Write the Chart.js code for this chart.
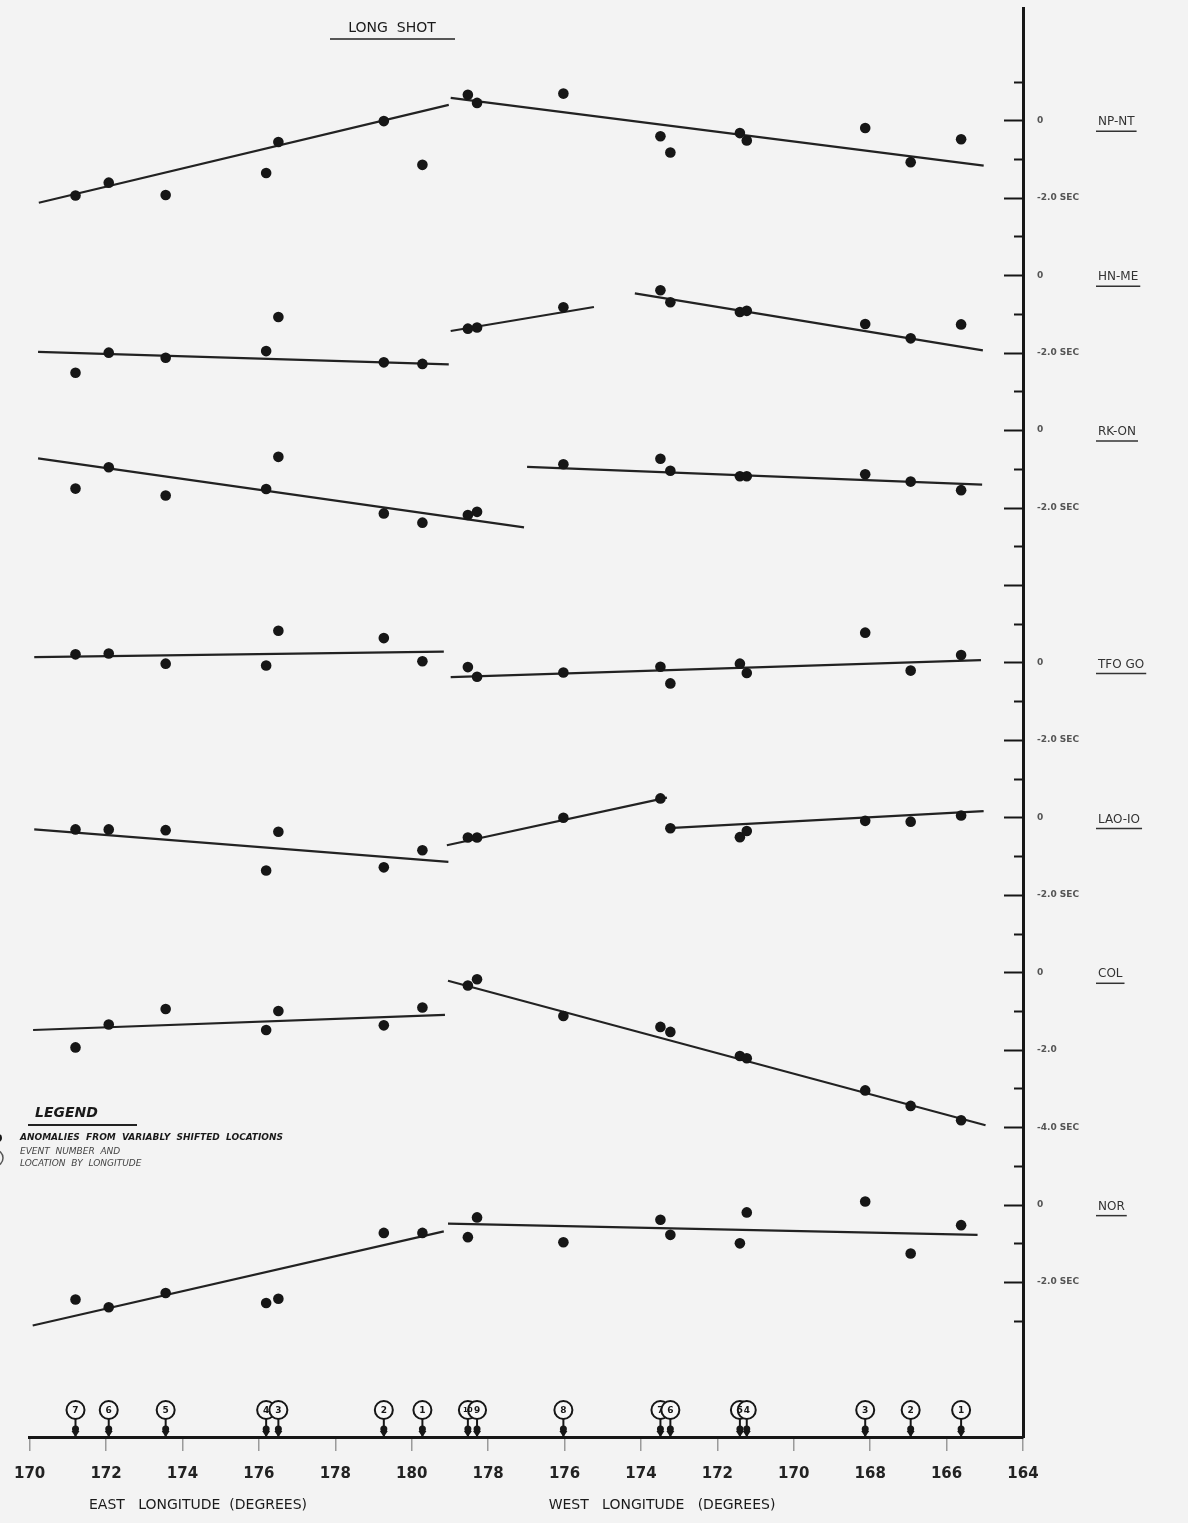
<!DOCTYPE html>
<html><head><meta charset="utf-8">
<script src="https://cdn.jsdelivr.net/npm/chart.js@4.4.0/dist/chart.umd.min.js"></script>
<style>html,body{margin:0;padding:0;background:#f3f3f3;} canvas{display:block}</style>
</head><body>
<canvas id="c" width="1188" height="1523"></canvas>
<script>
// Event longitudes in degrees east (0-360); >180 means west longitude 360-x
const eastEventLon = [171.20, 172.07, 173.56, 176.19, 176.51, 179.27, 180.28];          // events 7..1 (east group)
const westEventLon = [181.47, 181.71, 183.97, 186.51, 186.77, 188.59, 188.77, 191.87, 193.06, 194.38]; // events 10..1 (west group)
const eastEventNum = ['7','6','5','4','3','2','1'];
const westEventNum = ['10','9','8','7','6','5','4','3','2','1'];

const stationNames = ['NP-NT','HN-ME','RK-ON','TFO GO','LAO-IO','COL','NOR'];
const stationZero  = [0, -4, -8, -14, -18, -22, -28];   // zero line of each station on the common scale (sec)

// anomalies (sec): east events 7..1 then west events 10..1
const npnt = [-1.94,-1.61,-1.93,-1.36,-0.56,-0.02,-1.15, 0.66,0.45,0.69,-0.41,-0.83,-0.33,-0.52,-0.20,-1.08,-0.49];
const hnme = [-2.52,-2.00,-2.13,-1.96,-1.08,-2.25,-2.29, -1.38,-1.35,-0.83,-0.39,-0.70,-0.95,-0.92,-1.26,-1.63,-1.27];
const rkon = [-1.51,-0.96,-1.69,-1.52,-0.69,-2.15,-2.39, -2.19,-2.11,-0.88,-0.74,-1.05,-1.19,-1.19,-1.14,-1.33,-1.55];
const tfo  = [0.21,0.23,-0.03,-0.08,0.82,0.63,0.03, -0.12,-0.37,-0.26,-0.11,-0.54,-0.03,-0.27,0.77,-0.21,0.19];
const lao  = [-0.31,-0.31,-0.33,-1.37,-0.37,-1.29,-0.85, -0.52,-0.52,-0.01,0.49,-0.28,-0.51,-0.35,-0.09,-0.11,0.05];
const col  = [-1.94,-1.35,-0.95,-1.49,-1.00,-1.37,-0.91, -0.34,-0.18,-1.13,-1.41,-1.54,-2.16,-2.22,-3.05,-3.45,-3.82];
const nor  = [-2.45,-2.65,-2.28,-2.54,-2.43,-0.73,-0.73, -0.84,-0.33,-0.97,-0.39,-0.78,-1.00,-0.20,0.08,-1.26,-0.53];

// fitted line segments: [lon1, sec1, lon2, sec2]
const npntFit = [[170.24,-2.13,180.97,0.40],[181.02,0.58,194.97,-1.17]];
const hnmeFit = [[170.22,-1.98,180.97,-2.30],[181.02,-1.44,184.77,-0.82],[185.84,-0.47,194.95,-1.94]];
const rkonFit = [[170.22,-0.73,182.94,-2.51],[183.02,-0.95,194.93,-1.41]];
const tfoFit  = [[170.12,0.14,180.84,0.28],[181.02,-0.38,194.90,0.06]];
const laoFit  = [[170.12,-0.31,180.96,-1.15],[180.92,-0.72,186.68,0.51],[186.72,-0.28,194.97,0.16]];
const colFit  = [[170.09,-1.49,180.87,-1.10],[180.95,-0.22,195.02,-3.95]];
const norFit  = [[170.08,-3.12,180.84,-0.69],[180.95,-0.49,194.81,-0.78]];

const xTickStep = 2;
const xMin = 170, xMax = 196;
const yMin = -34, yMax = 2.9;

const allLon = eastEventLon.concat(westEventLon);
const allNum = eastEventNum.concat(westEventNum);
const stationVals = [npnt, hnme, rkon, tfo, lao, col, nor];
const stationFits = [npntFit, hnmeFit, rkonFit, tfoFit, laoFit, colFit, norFit];

const INK = '#161616';
const datasets = [];
stationVals.forEach((vals, i) => {
  const z = stationZero[i];
  datasets.push({
    label: stationNames[i],
    data: vals.map((v, j) => ({x: allLon[j], y: z + v})),
    showLine: false, pointRadius: 5.3, pointHoverRadius: 5.3,
    backgroundColor: INK, borderWidth: 0, order: 1
  });
  stationFits[i].forEach(seg => {
    datasets.push({
      label: stationNames[i] + ' fit',
      data: [{x: seg[0], y: z + seg[1]}, {x: seg[2], y: z + seg[3]}],
      showLine: true, pointRadius: 0, borderColor: '#222', borderWidth: 2.2, order: 2
    });
  });
});

const deco = {
  id: 'deco',
  beforeDraw(chart) {
    const c = chart.ctx;
    c.save(); c.fillStyle = '#f3f3f3'; c.fillRect(0, 0, chart.width, chart.height); c.restore();
  },
  afterDraw(chart) {
    const c = chart.ctx, xs = chart.scales.x, ys = chart.scales.y, a = chart.chartArea;
    c.save();
    // y tick marks (inward)
    c.strokeStyle = INK; c.lineWidth = 2;
    for (let v = 1; v >= -31; v--) {
      const py = Math.round(ys.getPixelForValue(v)) + 0.5;
      const len = (v % 2 === 0) ? 19 : 9;
      c.beginPath(); c.moveTo(a.right - len, py); c.lineTo(a.right, py); c.stroke();
    }
    // right-side labels
    c.textBaseline = 'middle'; c.textAlign = 'left';
    stationNames.forEach((nm, i) => {
      const z = stationZero[i];
      c.fillStyle = '#555';
      c.font = 'bold 9px "DejaVu Sans"';
      c.fillText('0', a.right + 14, ys.getPixelForValue(z));
      if (nm === 'COL') {
        c.fillText('-2.0', a.right + 14, ys.getPixelForValue(z - 2));
        c.fillText('-4.0 SEC', a.right + 14, ys.getPixelForValue(z - 4));
      } else {
        c.fillText('-2.0 SEC', a.right + 14, ys.getPixelForValue(z - 2));
      }
      c.fillStyle = '#333';
      c.font = '12px "DejaVu Sans"';
      const py = ys.getPixelForValue(z) + 2;
      c.fillText(nm, 1098, py);
      const w = c.measureText(nm).width;
      c.strokeStyle = '#333'; c.lineWidth = 1.5;
      c.beginPath(); c.moveTo(1096, py + 9); c.lineTo(1100 + w, py + 9); c.stroke();
    });
    // event markers: stems and circles first
    const cy = a.bottom - 27;
    allLon.forEach((lon) => {
      const cx = xs.getPixelForValue(lon);
      c.strokeStyle = INK; c.fillStyle = INK; c.lineWidth = 2;
      c.beginPath(); c.moveTo(cx, cy + 8); c.lineTo(cx, a.bottom); c.stroke();
      c.beginPath(); c.arc(cx, a.bottom - 8, 3.5, 0, Math.PI * 2); c.fill();
      c.beginPath(); c.moveTo(cx - 4, a.bottom - 6); c.lineTo(cx + 4, a.bottom - 6); c.lineTo(cx, a.bottom); c.fill();
      c.fillStyle = '#f7f7f7';
      c.beginPath(); c.arc(cx, cy, 9, 0, Math.PI * 2); c.fill(); c.stroke();
    });
    // then the event numbers on top
    allLon.forEach((lon, j) => {
      const cx = xs.getPixelForValue(lon);
      c.fillStyle = INK;
      c.font = allNum[j].length > 1 ? 'bold 7px "DejaVu Sans"' : 'bold 9px "DejaVu Sans"';
      c.textAlign = 'center'; c.textBaseline = 'middle';
      c.fillText(allNum[j], cx, cy + 0.5);
    });
    // axis titles
    c.fillStyle = '#1a1a1a'; c.font = '14px "DejaVu Sans"'; c.textAlign = 'center'; c.textBaseline = 'middle';
    c.fillText('EAST   LONGITUDE  (DEGREES)', 198, 1505);
    c.fillText('WEST   LONGITUDE   (DEGREES)', 662, 1505);
    // title
    c.font = '14px "DejaVu Sans"';
    c.fillText('LONG  SHOT', 392, 28);
    c.lineWidth = 1.5; c.strokeStyle = '#222';
    c.beginPath(); c.moveTo(330, 39); c.lineTo(455, 39); c.stroke();
    // legend
    c.textAlign = 'left';
    c.font = 'italic bold 14px "DejaVu Sans"';
    c.fillText('LEGEND', 35, 1113);
    c.lineWidth = 2;
    c.beginPath(); c.moveTo(28, 1125); c.lineTo(137, 1125); c.stroke();
    c.font = 'italic bold 9px "DejaVu Sans"';
    c.fillText('ANOMALIES  FROM  VARIABLY  SHIFTED  LOCATIONS', 20, 1138);
    c.font = 'italic 9px "DejaVu Sans"';
    c.fillStyle = '#444';
    c.fillText('EVENT  NUMBER  AND', 20, 1152);
    c.fillText('LOCATION  BY  LONGITUDE', 20, 1164);
    c.fillStyle = INK;
    c.beginPath(); c.arc(-2, 1138, 4, 0, Math.PI * 2); c.fill();
    c.strokeStyle = '#555'; c.lineWidth = 1.5;
    c.beginPath(); c.arc(-5, 1158, 8, 0, Math.PI * 2); c.stroke();
    c.restore();
  }
};

new Chart(document.getElementById('c'), {
  type: 'scatter',
  data: { datasets },
  options: {
    responsive: false, animation: false, devicePixelRatio: 1,
    layout: { padding: { left: 28.7, right: 145, top: 8, bottom: 24 } },
    plugins: { legend: { display: false }, tooltip: { enabled: false } },
    scales: {
      x: {
        type: 'linear', position: 'bottom', min: xMin, max: xMax,
        afterFit: s => { s.height = 62; },
        border: { display: true, color: INK, width: 3 },
        grid: { display: true, drawOnChartArea: false, drawTicks: true, tickLength: 14, color: '#9a9a9a', lineWidth: 1.5 },
        ticks: { stepSize: xTickStep, autoSkip: false, maxRotation: 0, padding: 14,
          color: '#222', font: { family: 'DejaVu Sans', size: 15, weight: 'bold' },
          callback: v => (v > 180 ? 360 - v : v) }
      },
      y: {
        type: 'linear', position: 'right', min: yMin, max: yMax,
        afterFit: s => { s.width = 20; },
        border: { display: true, color: INK, width: 3 },
        grid: { display: false },
        ticks: { display: false }
      }
    }
  },
  plugins: [deco]
});
</script>
</body></html>
